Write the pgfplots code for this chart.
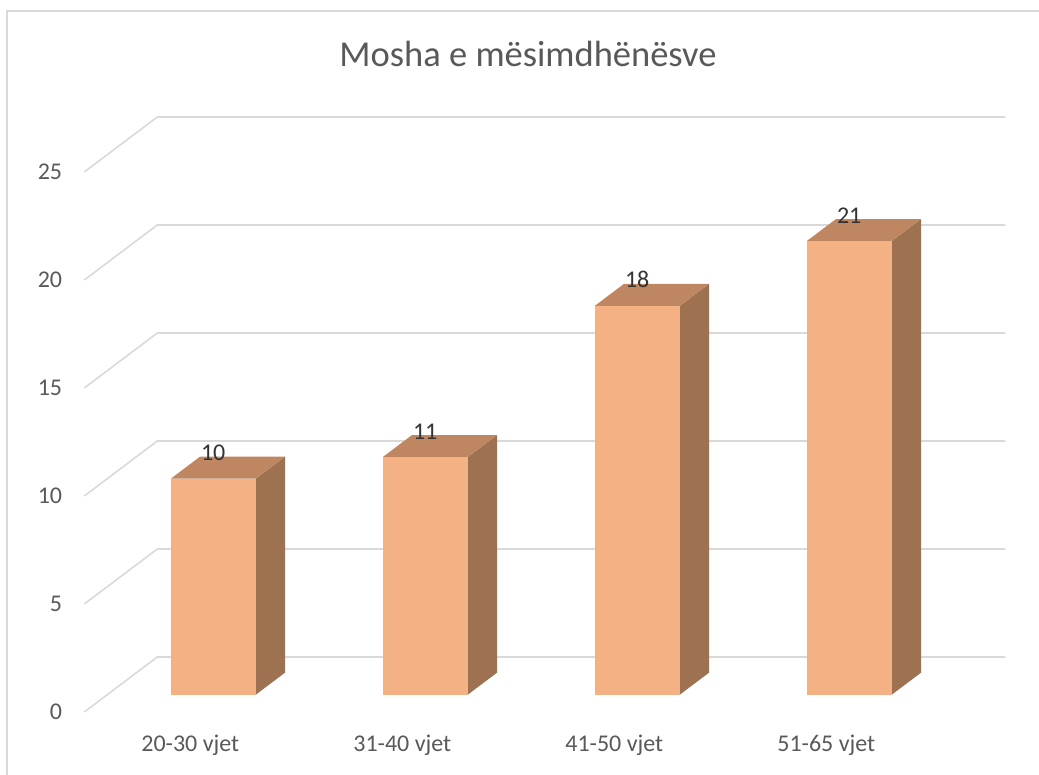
\documentclass[border=0pt]{standalone}
\usepackage{fontspec}
\setmainfont{Carlito}
\usepackage{pgfplots}
\pgfplotsset{compat=1.18}
\definecolor{gridc}{HTML}{D9D9D9}
\definecolor{txt}{HTML}{595959}
\definecolor{frontc}{HTML}{F4B183}
\definecolor{topc}{HTML}{BF8662}
\definecolor{sidec}{HTML}{9E7151}
\begin{document}
\begin{tikzpicture}
\path[use as bounding box] (-190.3pt,-62pt) rectangle (848.7pt,712pt);
\draw[gridc, line width=1.5pt] (-183.3pt,-80pt) -- (-183.3pt,701pt) -- (870pt,701pt);
% 3D (oblique) part: category, depth, value
\begin{axis}[at={(0pt,0pt)}, anchor=origin,
  x={(212pt,0pt)}, y={(73pt,55pt)}, z={(0pt,21.6pt)},
  xmin=-0.5, xmax=3.5, ymin=0, ymax=1, zmin=0, zmax=25,
  hide axis, clip=false,
  /pgf/number format/assume math mode=true]
\pgfplotsinvokeforeach{0,5,10,15,20,25}{
  \addplot3[gridc, line width=1.6pt, mark=none] coordinates {(-0.5,0,#1) (-0.5,1,#1) (3.5,1,#1)};
}
% bar 1: 20-30 vjet = 10
\addplot3[fill=sidec, draw=none] coordinates {(0.2005,0.314,0) (0.2005,0.715,0) (0.2005,0.715,10) (0.2005,0.314,10)};
\addplot3[fill=topc, draw=none] coordinates {(-0.2005,0.314,10) (0.2005,0.314,10) (0.2005,0.715,10) (-0.2005,0.715,10)};
\addplot3[fill=frontc, draw=none] coordinates {(-0.2005,0.314,0) (0.2005,0.314,0) (0.2005,0.314,10) (-0.2005,0.314,10)};
% bar 2: 31-40 vjet = 11
\addplot3[fill=sidec, draw=none] coordinates {(1.2005,0.314,0) (1.2005,0.715,0) (1.2005,0.715,11) (1.2005,0.314,11)};
\addplot3[fill=topc, draw=none] coordinates {(0.7995,0.314,11) (1.2005,0.314,11) (1.2005,0.715,11) (0.7995,0.715,11)};
\addplot3[fill=frontc, draw=none] coordinates {(0.7995,0.314,0) (1.2005,0.314,0) (1.2005,0.314,11) (0.7995,0.314,11)};
% bar 3: 41-50 vjet = 18
\addplot3[fill=sidec, draw=none] coordinates {(2.2005,0.314,0) (2.2005,0.715,0) (2.2005,0.715,18) (2.2005,0.314,18)};
\addplot3[fill=topc, draw=none] coordinates {(1.7995,0.314,18) (2.2005,0.314,18) (2.2005,0.715,18) (1.7995,0.715,18)};
\addplot3[fill=frontc, draw=none] coordinates {(1.7995,0.314,0) (2.2005,0.314,0) (2.2005,0.314,18) (1.7995,0.314,18)};
% bar 4: 51-65 vjet = 21
\addplot3[fill=sidec, draw=none] coordinates {(3.2005,0.314,0) (3.2005,0.715,0) (3.2005,0.715,21) (3.2005,0.314,21)};
\addplot3[fill=topc, draw=none] coordinates {(2.7995,0.314,21) (3.2005,0.314,21) (3.2005,0.715,21) (2.7995,0.715,21)};
\addplot3[fill=frontc, draw=none] coordinates {(2.7995,0.314,0) (3.2005,0.314,0) (3.2005,0.314,21) (2.7995,0.314,21)};
% value labels
\addplot3[draw=none, mark=none, nodes near coords, point meta=z,
  nodes near coords style={anchor=base, yshift=18pt, inner sep=0pt, text=black!80, font=\fontsize{24}{29}\selectfont}]
  coordinates {(0,0.314,10) (1,0.314,11) (2,0.314,18) (3,0.314,21)};
\end{axis}
% 2D front plane: tick labels and title
\begin{axis}[at={(0pt,0pt)}, anchor=origin,
  x={(212pt,0pt)}, y={(0pt,21.6pt)},
  xmin=-0.5, xmax=3.5, ymin=0, ymax=25,
  axis line style={draw=none}, major tick length=0pt, tick style={draw=none},
  ytick={0,5,10,15,20,25},
  xtick={0,1,2,3},
  xticklabels={20-30 vjet,31-40 vjet,41-50 vjet,51-65 vjet},
  tick label style={font=\fontsize{24}{29}\selectfont, text=txt},
  yticklabel style={anchor=east, inner sep=0pt, xshift=-22pt},
  xticklabel style={anchor=base, inner sep=0pt, yshift=-39pt},
  /pgf/number format/assume math mode=true,
  title={Mosha e mësimdhënësve},
  title style={at={(axis description cs:0.5,1)}, anchor=base, xshift=19.7pt, yshift=99pt,
    inner sep=0pt, text=txt, font=\fontsize{36.5}{44}\selectfont}]
\end{axis}
\end{tikzpicture}
\end{document}
